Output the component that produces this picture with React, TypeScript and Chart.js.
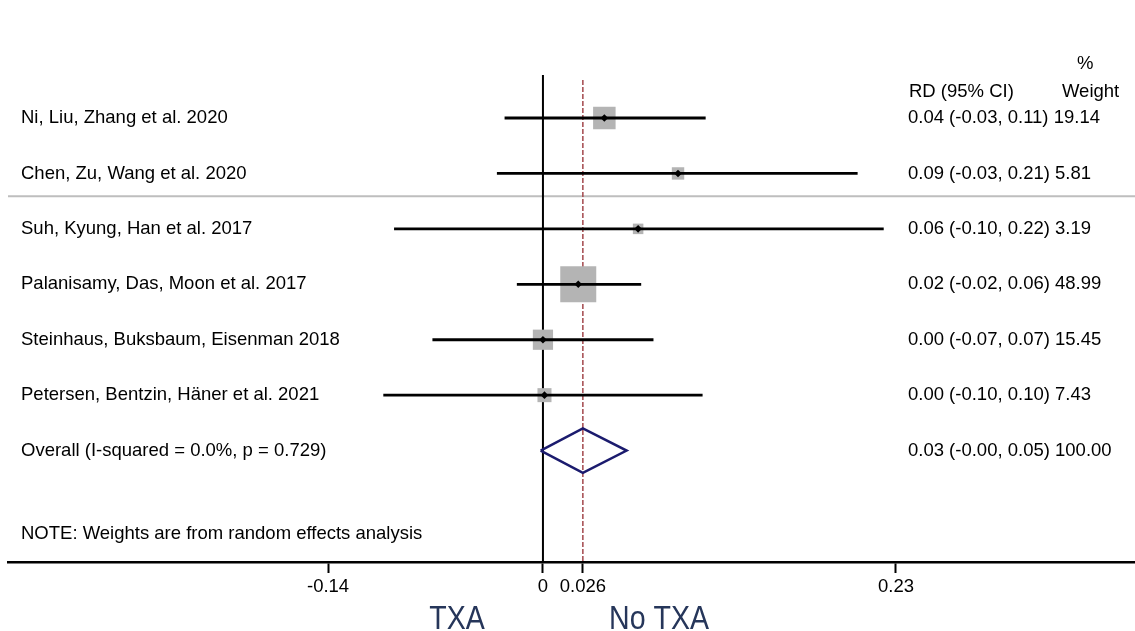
import React, { useEffect, useRef } from "react";
import { Chart, registerables } from "chart.js";

Chart.register(...registerables);

// ---------- data ----------
const studyLabels = [
  "Ni, Liu, Zhang et al. 2020",
  "Chen, Zu, Wang et al. 2020",
  "Suh, Kyung, Han et al. 2017",
  "Palanisamy, Das, Moon et al. 2017",
  "Steinhaus, Buksbaum, Eisenman 2018",
  "Petersen, Bentzin, Häner et al. 2021",
];
const rdValues = [0.04, 0.088, 0.062, 0.023, 0.0, 0.001];
const ciLower = [-0.025, -0.03, -0.097, -0.017, -0.072, -0.104];
const ciUpper = [0.106, 0.205, 0.222, 0.064, 0.072, 0.104];
const weights = [19.14, 5.81, 3.19, 48.99, 15.45, 7.43];
const rdText = [
  "0.04 (-0.03, 0.11)",
  "0.09 (-0.03, 0.21)",
  "0.06 (-0.10, 0.22)",
  "0.02 (-0.02, 0.06)",
  "0.00 (-0.07, 0.07)",
  "0.00 (-0.10, 0.10)",
];
const weightText = ["19.14", "5.81", "3.19", "48.99", "15.45", "7.43"];

const overallLabel = "Overall (I-squared = 0.0%, p = 0.729)";
const overallRd = 0.026;
const overallLower = -0.0015;
const overallUpper = 0.0545;
const overallText = "0.03 (-0.00, 0.05)";
const overallWeight = "100.00";

const tickValues = [-0.14, 0, 0.026, 0.23];
const tickLabels = ["-0.14", "0", "0.026", "0.23"];

const noteText = "NOTE: Weights are from random effects analysis";
const headerRd = "RD (95% CI)";
const headerWeight = "Weight";
const headerPercent = "%";
const leftGroupLabel = "TXA";
const rightGroupLabel = "No TXA";

// ---------- layout constants ----------
const X_MIN = -0.3485;
const X_MAX = 0.3857;
const Y_MIN = -1.129;
const Y_MAX = 9.01;
const FONT = '"Liberation Sans", Arial, Helvetica, sans-serif';

const App: React.FC = () => {
  const canvasRef = useRef<HTMLCanvasElement | null>(null);

  useEffect(() => {
    document.body.style.margin = "0";
    const canvas = canvasRef.current;
    if (!canvas) return;

    const maxW = Math.max(...weights);
    const boxRadius = weights.map((w) => Math.max(10.5, 36 * Math.sqrt(w / maxW)) / (2 * Math.SQRT1_2));

    const ciDatasets = studyLabels.map((_, i) => ({
      type: "line" as const,
      data: [
        { x: ciLower[i], y: i + 1 },
        { x: ciUpper[i], y: i + 1 },
      ],
      borderColor: "#000000",
      borderWidth: 2.8,
      pointRadius: 0,
      fill: false,
      order: 1,
    }));

    const overallRow = studyLabels.length + 1;
    const halfH = 0.4;

    const textPlugin = {
      id: "forestText",
      afterDraw(chart: any) {
        const { ctx, chartArea } = chart;
        const y = chart.scales.y;
        const x = chart.scales.x;
        const leftX = chartArea.left + 13;
        const rightX = x.getPixelForValue(0.2378);
        ctx.save();
        ctx.fillStyle = "#000000";
        ctx.font = `18.5px ${FONT}`;
        ctx.textBaseline = "middle";
        ctx.textAlign = "left";
        ctx.fillText(headerPercent, rightX + 169, y.getPixelForValue(0.02));
        ctx.fillText(headerRd, rightX + 1, y.getPixelForValue(0.53));
        ctx.fillText(headerWeight, rightX + 154, y.getPixelForValue(0.53));
        studyLabels.forEach((lab, i) => {
          const py = y.getPixelForValue(i + 1);
          ctx.fillText(lab, leftX, py);
          ctx.fillText(rdText[i] + " " + weightText[i], rightX, py);
        });
        const oy = y.getPixelForValue(overallRow);
        ctx.fillText(overallLabel, leftX, oy);
        ctx.fillText(overallText + " " + overallWeight, rightX, oy);
        ctx.fillText(noteText, leftX, y.getPixelForValue(8.505));

        // group labels under the axis
        ctx.fillStyle = "#26365a";
        ctx.textAlign = "center";
        ctx.textBaseline = "alphabetic";
        const gy = y.getPixelForValue(10.0) + 12;
        [
          [leftGroupLabel, -0.056],
          [rightGroupLabel, 0.0756],
        ].forEach(([t, v]) => {
          ctx.save();
          ctx.translate(x.getPixelForValue(v as number), gy);
          ctx.scale(0.84, 1);
          ctx.font = `34px ${FONT}`;
          ctx.fillText(t as string, 0, 0);
          ctx.restore();
        });
        ctx.restore();
      },
    };

    const chart = new Chart(canvas, {
      type: "scatter",
      data: {
        datasets: [
          {
            type: "scatter",
            data: studyLabels.map((_, i) => ({ x: rdValues[i], y: i + 1 })),
            pointStyle: "rectRot",
            pointRadius: 3.8,
            backgroundColor: "#000000",
            borderWidth: 0,
            order: 0,
          } as any,
          ...ciDatasets,
          {
            type: "scatter",
            data: studyLabels.map((_, i) => ({ x: rdValues[i], y: i + 1 })),
            pointStyle: "rect",
            pointRadius: boxRadius,
            backgroundColor: "#b4b4b4",
            borderWidth: 0,
            order: 2,
          } as any,
          {
            type: "line",
            data: [
              { x: overallLower, y: overallRow },
              { x: overallRd, y: overallRow - halfH },
              { x: overallUpper, y: overallRow },
              { x: overallRd, y: overallRow + halfH },
              { x: overallLower, y: overallRow },
            ],
            borderColor: "#1b1b6e",
            borderWidth: 2.5,
            pointRadius: 0,
            fill: false,
            order: 3,
          },
          {
            type: "line",
            data: [
              { x: 0, y: 0.224 },
              { x: 0, y: Y_MAX },
            ],
            borderColor: "#000000",
            borderWidth: 2,
            pointRadius: 0,
            order: 4,
          },
          {
            type: "line",
            data: [
              { x: overallRd, y: 0.314 },
              { x: overallRd, y: Y_MAX },
            ],
            borderColor: "#a3484c",
            borderWidth: 1.5,
            borderDash: [5, 2],
            pointRadius: 0,
            order: 4,
          },
          {
            type: "line",
            data: [
              { x: X_MIN, y: 2.41 },
              { x: X_MAX, y: 2.41 },
            ],
            borderColor: "#bebebe",
            borderWidth: 2,
            pointRadius: 0,
            order: 5,
          },
        ],
      },
      options: {
        responsive: false,
        animation: false,
        events: [],
        layout: { autoPadding: false, padding: { left: 8, right: 0, top: 0, bottom: 0 } },
        plugins: { legend: { display: false }, tooltip: { enabled: false } },
        scales: {
          x: {
            type: "linear",
            min: X_MIN,
            max: X_MAX,
            afterBuildTicks: (s: any) => {
              s.ticks = tickValues.map((v) => ({ value: v }));
            },
            afterFit: (s: any) => {
              s.height = 69;
            },
            ticks: {
              autoSkip: false,
              maxRotation: 0,
              padding: 3,
              color: "#000000",
              font: { family: FONT, size: 18.5 },
              callback: (v: any) => {
                const idx = tickValues.indexOf(Number(v));
                return idx >= 0 ? tickLabels[idx] : "";
              },
            },
            grid: {
              display: true,
              drawOnChartArea: false,
              drawTicks: true,
              tickLength: 11,
              tickWidth: 2,
              tickColor: "#000000",
            },
            border: { display: true, color: "#000000", width: 2.5 },
          },
          y: {
            type: "linear",
            display: false,
            min: Y_MIN,
            max: Y_MAX,
            reverse: true,
          },
        },
      },
      plugins: [textPlugin],
    } as any);

    return () => chart.destroy();
  }, []);

  return (
    <div style={{ width: 1135, height: 631 }}>
      <canvas ref={canvasRef} width={1135} height={631} style={{ display: "block" }} />
    </div>
  );
};

export default App;
